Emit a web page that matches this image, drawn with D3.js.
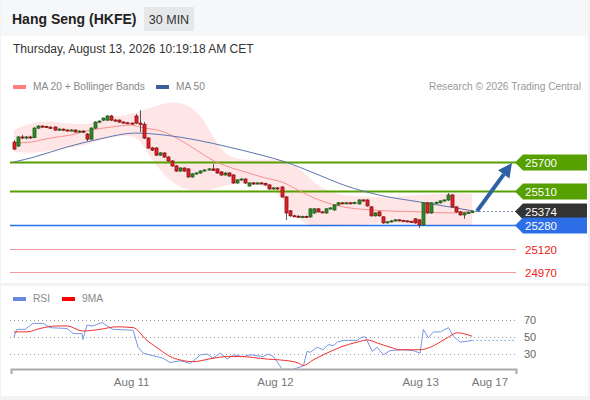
<!DOCTYPE html>
<html>
<head>
<meta charset="utf-8">
<script src="https://cdnjs.cloudflare.com/ajax/libs/d3/7.8.5/d3.min.js"></script>
<style>
body { margin: 0; background: #fff; }
svg { display: block; font-family: "Liberation Sans", Arial, sans-serif; }
</style>
</head>
<body>
<svg id="chart" width="590" height="400"></svg>
<script>
// 30 min candles (index 0 = first candle)
var open  = [25832,25806,25866,25860,25866,25862,25925,25938,25935,25930,25932,25912,25918,25912,25910,25912,25899,25905,25885,25852,
             25925,25965,25978,25978,26005,25978,25978,25965,25960,25958,26005,25958,25950,25859,25793,25793,25746,25760,25733,25707,
             25674,25640,25660,25654,25601,25621,25627,25640,25647,25654,25654,25634,25614,25627,25614,25561,25581,25587,25541,25561,
             25554,25561,25558,25548,25521,25528,25534,25468,25376,25343,25340,25336,25338,25336,25362,25389,25369,25362,25389,25382,
             25415,25429,25425,25429,25425,25422,25448,25448,25402,25343,25369,25336,25296,25303,25309,25316,25312,25309,25306,25323,
             25316,25283,25429,25362,25429,25429,25442,25448,25481,25402,25369,25349,25362,25365];
var high  = [25845,25872,25880,25872,25875,25930,25945,25945,25940,25938,25936,25924,25922,25918,25918,25916,25910,25910,25892,25930,
             25970,25978,25995,26010,26012,25985,25982,25970,25965,25962,26018,26044,25965,25865,25800,25798,25766,25764,25738,25712,
             25680,25666,25664,25660,25626,25632,25645,25652,25658,25687,25658,25638,25632,25632,25618,25586,25592,25592,25566,25566,
             25566,25565,25562,25552,25534,25534,25540,25474,25382,25350,25346,25344,25344,25394,25395,25394,25374,25394,25400,25420,
             25434,25434,25434,25434,25436,25452,25452,25452,25408,25366,25374,25340,25308,25314,25320,25320,25316,25314,25310,25328,
             25320,25434,25434,25434,25438,25446,25452,25494,25486,25406,25374,25366,25370,25380];
var low   = [25780,25800,25852,25850,25855,25858,25918,25928,25925,25920,25908,25906,25905,25904,25905,25895,25894,25892,25839,25845,
             25920,25958,25972,25972,25972,25968,25960,25955,25952,25950,25952,25899,25852,25788,25772,25740,25740,25728,25702,25668,
             25634,25635,25635,25595,25596,25615,25622,25636,25642,25640,25622,25608,25610,25602,25555,25556,25576,25555,25536,25549,
             25550,25552,25543,25516,25516,25516,25462,25316,25336,25334,25330,25330,25330,25330,25356,25364,25360,25356,25384,25376,
             25410,25420,25420,25420,25420,25418,25436,25404,25338,25338,25338,25290,25292,25298,25304,25306,25304,25300,25298,25290,
             25263,25278,25356,25356,25424,25424,25436,25442,25396,25362,25344,25323,25356,25360];
var close = [25786,25866,25860,25866,25862,25925,25938,25935,25930,25925,25912,25918,25912,25910,25912,25899,25905,25899,25852,25925,
             25965,25971,25991,26005,25978,25975,25965,25960,25958,25955,25958,25950,25859,25793,25779,25746,25760,25733,25707,25674,
             25640,25660,25640,25601,25621,25627,25640,25647,25654,25645,25627,25614,25627,25607,25561,25581,25587,25561,25561,25554,
             25561,25558,25548,25521,25528,25521,25468,25362,25343,25340,25336,25338,25336,25389,25389,25369,25366,25389,25395,25415,
             25429,25425,25429,25425,25432,25448,25442,25409,25343,25362,25343,25296,25303,25309,25316,25312,25309,25306,25303,25296,
             25283,25429,25362,25429,25432,25442,25448,25481,25402,25369,25349,25362,25365,25374];

// MA 20 read at sample candle positions
var ma20Idx = [0,4,9,14,19,24,29,31,37,41,45,49,53,57,62,66,71,74,80,88,100,108,113];
var ma20Val = [25826,25832,25859,25879,25912,25932,25945,25932,25899,25846,25779,25713,25667,25634,25594,25568,25501,25462,25409,25382,25369,25362,25376];

// Bollinger bands
var bandIdx   = [0,4,8,13,18,21,24,28,31,34,38,42,46,49,52,56,61,65,68,71,74,78,82,90,100,108,113];
var bandUpper = [25912,25958,25975,25955,25950,25965,25998,26011,26035,26065,26097,26095,26024,25870,25745,25713,25713,25722,25700,25647,25560,25500,25475,25462,25482,25495,25488];
var bandLower = [25766,25758,25770,25793,25813,25846,25862,25879,25859,25713,25581,25515,25510,25515,25545,25560,25548,25515,25382,25303,25270,25272,25276,25296,25290,25276,25276];

// MA 50
var ma50Idx = [0,5,13,21,30,37,45,53,61,67,74,82,90,100,109,113];
var ma50Val = [25700,25733,25799,25852,25892,25879,25846,25799,25746,25700,25627,25541,25481,25435,25395,25376];

// RSI and its 9 period MA
var rsiIdx = [0,0.7,2.7,4.7,7.2,8.9,13.1,14.6,16.8,17,18,19.5,21.7,24.4,29.4,30.6,31.9,34.3,36.8,38.5,41,43.5,46,47.7,49.1,50.9,52.6,54.1,56.5,58.3,
              61.5,62.7,64,66.2,68.9,71.4,72.3,73.1,74.8,76.3,77.5,78.8,79.8,81.2,84.7,85.9,86.7,88.4,89.6,91.1,92.8,96,98.5,100.2,101,102.2,103.5,105.2,105.9,107.2,
              108.4,110.1,111.9,113];
var rsiVal = [50,59,59,66,66,61,60,54,54,47,64,63,67,59,58,38,31,28,25,20,22,19,29,30,25,31,24,29,27,29,
              27,30,27,12,12,16,33,32,38,35,41,40,44,46,46,50,50,33,38,29,34,35,34,31,59,49,56,56,58,61,
              51,44,45,46];
var rsiMaIdx = [0,3.2,6.4,10.6,13.1,17,21.2,25.4,29.4,32.8,36,38.5,41,44.2,49.1,52.6,55.8,62.5,65.7,70.1,71.4,73.8,76.3,80.5,84.7,87.2,89.6,92.8,95.3,100.2,
                102.7,106.9,109.4,110.9,113];
var rsiMaVal = [56,56,60,63,63,57,59,62,61,46,35,27,23,21,25,27,27,24,23,19.5,16.5,23,29,38,44,46.5,43,38,35,35,
                38,49,55,54,51];
var rsiTicks = [70,50,30];

// key levels
var levels     = [25700,25510,25374,25280,25120,24970];
var levelKinds = ["res","res","last","sup","minor","minor"];

// time axis
var dayIdx    = [28.9,64.4,100.2,117.3];
var dayLabels = ["Aug 11","Aug 12","Aug 13","Aug 17"];

var svg = d3.select("#chart");

// frame and panels
svg.append("rect").attr("width",590).attr("height",400).attr("fill","#f2f3f4");
svg.append("rect").attr("x",1).attr("y",0).attr("width",587).attr("height",36).attr("fill","#f6f7f8");
svg.append("rect").attr("x",1).attr("y",36).attr("width",587).attr("height",247).attr("fill","#fff");
svg.append("rect").attr("x",1).attr("y",286).attr("width",587).attr("height",110).attr("fill","#fff");

// header
svg.append("text").attr("x",12).attr("y",24).text("Hang Seng (HKFE)")
   .style("font-size","14px").style("font-weight","bold").attr("fill","#222");
svg.append("rect").attr("x",144).attr("y",7).attr("width",50).attr("height",24).attr("fill","#e6e7e9");
svg.append("text").attr("x",169).attr("y",24).attr("text-anchor","middle").text("30 MIN")
   .style("font-size","12.5px").attr("fill","#333");
svg.append("text").attr("x",13).attr("y",53).text("Thursday, August 13, 2026 10:19:18 AM CET")
   .style("font-size","12px").attr("fill","#333");

// legend
svg.append("rect").attr("x",13).attr("y",85).attr("width",13).attr("height",4).attr("fill","#ff7f7f");
svg.append("text").attr("x",33).attr("y",90).text("MA 20 + Bollinger Bands").style("font-size","10.2px").attr("fill","#888");
svg.append("rect").attr("x",156).attr("y",85).attr("width",13).attr("height",4).attr("fill","#3a5f9a");
svg.append("text").attr("x",176).attr("y",90).text("MA 50").style("font-size","10.2px").attr("fill","#888");
svg.append("text").attr("x",581).attr("y",90).attr("text-anchor","end").text("Research \u00a9 2026 Trading Central")
   .style("font-size","10.2px").attr("fill","#999");

var x = d3.scaleLinear().domain([0,113]).range([14,472]);
var y = d3.scaleLinear().domain([24970,25700]).range([272,162]);
var yr = d3.scaleLinear().domain([30,70]).range([354,320]);

var main = svg.append("g");

// bollinger band
var bandData = bandIdx.map((d,i) => ({i:d, hi:bandUpper[i], lo:bandLower[i]}));
main.append("path").datum(bandData)
    .attr("d", d3.area().x(d => x(d.i)).y0(d => y(d.lo)).y1(d => y(d.hi)).curve(d3.curveBasis))
    .attr("fill","#ffe3e3").attr("opacity",0.9);

// level lines
var levelStyle = {
  res:   {stroke:"#56a000", width:2,   box:"#56a000"},
  last:  {stroke:"#7f8ea8", width:1,   box:"#333333", dash:"2,2"},
  sup:   {stroke:"#2d6ee6", width:1.5, box:"#2d6ee6"},
  minor: {stroke:"#f59a9a", width:1,   box:null}
};
levels.forEach(function(v,i){
  var st = levelStyle[levelKinds[i]];
  var ly = Math.round(y(v)) + 0.5;
  var x0 = levelKinds[i] == "last" ? x(113) + 3 : 10;
  main.append("line").attr("x1",x0).attr("x2",516).attr("y1",ly).attr("y2",ly)
      .attr("stroke",st.stroke).attr("stroke-width",st.width)
      .attr("stroke-dasharray",st.dash || null);
  if (st.box) {
    main.append("path")
        .attr("d","M515,"+ly+" L523,"+(ly-8)+" L587,"+(ly-8)+" L587,"+(ly+8)+" L523,"+(ly+8)+" Z")
        .attr("fill",st.box);
    main.append("text").attr("x",525).attr("y",ly+4).text(v)
        .style("font-size","11.5px").attr("fill","#fff");
  } else {
    main.append("text").attr("x",525).attr("y",ly+4).text(v)
        .style("font-size","11.5px").attr("fill","#f02020");
  }
});

// moving averages
main.append("path").datum(ma20Idx.map((d,i) => [d, ma20Val[i]]))
    .attr("d", d3.line().x(d => x(d[0])).y(d => y(d[1])).curve(d3.curveMonotoneX))
    .attr("fill","none").attr("stroke","#f79090").attr("stroke-width",1);
main.append("path").datum(ma50Idx.map((d,i) => [d, ma50Val[i]]))
    .attr("d", d3.line().x(d => x(d[0])).y(d => y(d[1])).curve(d3.curveMonotoneX))
    .attr("fill","none").attr("stroke","#5a76b0").attr("stroke-width",1);

// candles
var candles = close.map((c,i) => ({i:i, o:open[i], h:high[i], l:low[i], c:c}));
var cg = main.selectAll(".candle").data(candles).enter().append("g").attr("class","candle");
cg.append("line")
  .attr("x1", d => Math.round(x(d.i))+0.5).attr("x2", d => Math.round(x(d.i))+0.5)
  .attr("y1", d => y(d.h)).attr("y2", d => y(d.l))
  .attr("stroke","#555").attr("stroke-width",1);
cg.append("rect")
  .attr("x", d => Math.round(x(d.i))-1)
  .attr("y", d => y(Math.max(d.o,d.c)))
  .attr("width",3)
  .attr("height", d => Math.max(1, Math.abs(y(d.o)-y(d.c))))
  .attr("fill", d => d.c >= d.o ? "#2f8a2a" : "#e0202a")
  .attr("stroke", d => d.c >= d.o ? "#1e5e1a" : "#8a1010").attr("stroke-width",0.8);

// forecast arrow
var ax0 = x(113)+5, ay0 = y(close[113]), ax1 = 512, ay1 = y(25700)+1;
var ang = Math.atan2(ay1-ay0, ax1-ax0), hl = 14, hw = 7;
var bx = ax1 - hl*Math.cos(ang), by = ay1 - hl*Math.sin(ang);
main.append("line").attr("x1",ax0).attr("y1",ay0).attr("x2",bx).attr("y2",by)
    .attr("stroke","#2f5fa5").attr("stroke-width",4);
main.append("path")
    .attr("d","M"+ax1+","+ay1+" L"+(bx+hw*Math.sin(ang))+","+(by-hw*Math.cos(ang))+" L"+(bx-hw*Math.sin(ang))+","+(by+hw*Math.cos(ang))+" Z")
    .attr("fill","#2f5fa5");

// RSI panel
svg.append("rect").attr("x",13).attr("y",297).attr("width",13).attr("height",4).attr("fill","#6688dd");
svg.append("text").attr("x",33).attr("y",302).text("RSI").style("font-size","10.2px").attr("fill","#888");
svg.append("rect").attr("x",62).attr("y",297).attr("width",13).attr("height",4).attr("fill","#f00");
svg.append("text").attr("x",82).attr("y",302).text("9MA").style("font-size","10.2px").attr("fill","#888");

rsiTicks.forEach(function(t){
  svg.append("line").attr("x1",10).attr("x2",515).attr("y1",Math.round(yr(t))+0.5).attr("y2",Math.round(yr(t))+0.5)
     .attr("stroke","#999").attr("stroke-dasharray","1,3");
  svg.append("text").attr("x",524).attr("y",yr(t)+4).text(t).style("font-size","11px").attr("fill","#666");
});

svg.append("path").datum(rsiIdx.map((d,i) => [d, rsiVal[i]]))
   .attr("d", d3.line().x(d => x(d[0])).y(d => yr(d[1])))
   .attr("fill","none").attr("stroke","#7896e6").attr("stroke-width",1);
svg.append("line").attr("x1",x(113)).attr("x2",514).attr("y1",yr(rsiVal[rsiVal.length-1])).attr("y2",yr(rsiVal[rsiVal.length-1]))
   .attr("stroke","#9ab0ee").attr("stroke-dasharray","2,2");
svg.append("path").datum(rsiMaIdx.map((d,i) => [d, rsiMaVal[i]]))
   .attr("d", d3.line().x(d => x(d[0])).y(d => yr(d[1])).curve(d3.curveMonotoneX))
   .attr("fill","none").attr("stroke","#f03030").attr("stroke-width",1);

// time axis
var xa = x.copy().domain([x.invert(11), x.invert(516)]).range([11,516]);
var axis = svg.append("g").attr("transform","translate(0,369)")
   .call(d3.axisBottom(xa).tickValues(dayIdx).tickFormat((d,i) => dayLabels[i]).tickSizeInner(0).tickSizeOuter(5).tickPadding(9));
axis.select(".domain").attr("stroke","#aaa").attr("stroke-width",2);
axis.selectAll("text").style("font-size","11.5px").attr("fill","#777").style("font-family","'Liberation Sans', Arial, sans-serif");
</script>
</body>
</html>
